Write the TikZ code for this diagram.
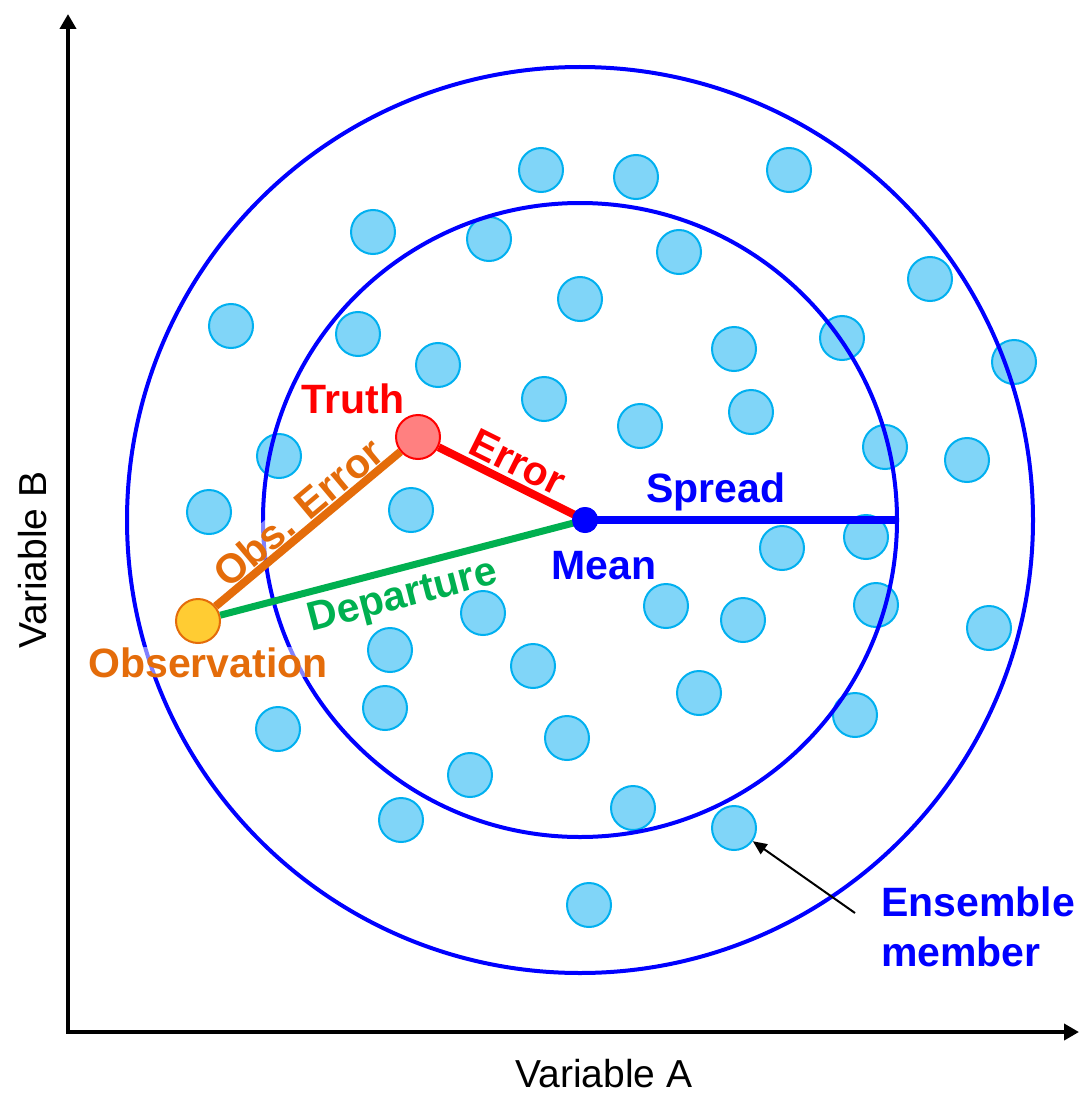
\documentclass[tikz,border=0pt]{standalone}
\usepackage{fontspec}
\setmainfont{Liberation Sans}
\usetikzlibrary{arrows.meta}
\definecolor{ringblue}{HTML}{0000FF}
\definecolor{dotfill}{HTML}{80D5F8}
\definecolor{dotline}{HTML}{00B0F0}
\definecolor{truthfill}{HTML}{FF8080}
\definecolor{truthline}{HTML}{FF0000}
\definecolor{obsfill}{HTML}{FFCC33}
\definecolor{obsline}{HTML}{E46C0A}
\definecolor{depgreen}{HTML}{00B050}
\tikzset{
  dot/.style={circle, draw=dotline, fill=dotfill, line width=2pt, minimum size=44pt, inner sep=0pt},
  ring/.style={draw=ringblue, line width=4pt},
  lbl/.style={font=\fontsize{41}{50}\selectfont\bfseries, inner sep=0pt},
  axislbl/.style={font=\fontsize{39}{48}\selectfont, inner sep=0pt},
  axisline/.style={line width=4pt, black},
  seg/.style={line width=8pt},
  veil/.style={fill=white, fill opacity=0.5, text opacity=1}
}
\begin{document}
\begin{tikzpicture}[x=1pt,y=-1pt]
\useasboundingbox (0,0) rectangle (1079,1094);
\fill[white] (0,0) rectangle (1079,1094);
% ensemble members
\foreach \n/\px/\py in {1/541/170,2/636/177,3/789/170,4/373/232,5/489/239,6/679/252,7/930/279,
  8/231/326,9/580/299,10/358/334,11/842/338,12/734/349,13/1014/362,14/438/365,15/544/399,
  16/751/412,17/640/426,18/279/456,19/885/447,20/967/460,21/209/512,22/411/510,23/866/537,
  24/782/548,25/483/613,26/666/606,27/743/620,28/876/605,29/989/628,30/390/650,31/533/666,
  32/699/693,33/385/708,34/278/729,35/855/715,36/567/738,37/470/775,38/633/808,39/401/820,
  40/734/828,41/589/905}
  {\node[dot] (e\n) at (\px,\py) {};}
% rings
\coordinate (c) at (580,520);
\draw[ring] (c) circle (453pt);
\draw[ring] (c) circle (317pt);
% axes
\coordinate (origin) at (68,1032);
\coordinate (ytop) at (68,14);
\coordinate (xend) at (1079,1032);
\draw[axisline, {Triangle[length=15pt,width=16pt]}-{Triangle[length=15pt,width=16pt]}] (ytop) -- (origin) -- (xend);
\node[axislbl, anchor=base] (va) at (604,1087) {Variable A};
\node[axislbl, anchor=base, rotate=90] (vb) at (46,560) {Variable B};
% key points
\node[circle, fill=ringblue, minimum size=26pt, inner sep=0pt] (mean) at (585,520) {};
\node[circle, draw=truthline, fill=truthfill, line width=2pt, minimum size=44pt, inner sep=0pt] (truth) at (418,437) {};
\node[circle, draw=obsline, fill=obsfill, line width=2pt, minimum size=44pt, inner sep=0pt] (obs) at (198,621) {};
\coordinate (spreadend) at (897,520);
% labels with a light veil
\node[lbl, text=obsline, veil, rotate=40] (obserr) at (298,512) {Obs. Error};
\node[lbl, text=obsline, veil, anchor=base] (obslbl) at (208,677) {Observation};
% segments
\draw[seg, ringblue] (mean.center) -- (spreadend);
\draw[seg, line width=7pt, depgreen] (obs) -- (mean.center);
\draw[seg, truthline] (truth) -- (mean.center);
\draw[seg, obsline] (obs) -- (truth);
\node[circle, fill=ringblue, minimum size=26pt, inner sep=0pt] at (mean) {};
\node[lbl, text=truthline, anchor=base] (truthlbl) at (353,413) {Truth};
\node[lbl, text=truthline, rotate=-26.4] (errlbl) at (518,462) {Error};
\node[lbl, text=depgreen, rotate=14.6] (deplbl) at (403,598) {Departure};
\node[lbl, text=ringblue, anchor=base] (spreadlbl) at (716,502) {Spread};
\node[lbl, text=ringblue, anchor=base] (meanlbl) at (604,579) {Mean};
\node[lbl, text=ringblue, align=left, anchor=north west] (enslbl) at (881,887) {Ensemble\\member};
\coordinate (ensarrow) at (855,913);
\draw[line width=2pt, -{Triangle[length=14pt,width=12pt]}] (ensarrow) -- (e40);
\end{tikzpicture}
\end{document}
